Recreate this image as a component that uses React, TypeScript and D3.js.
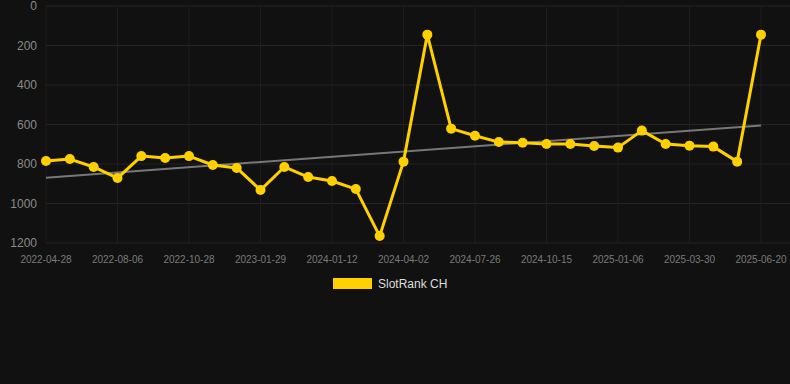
import React from "react";
import * as d3 from "d3";

const tickLabels = ["2022-04-28","2022-08-06","2022-10-28","2023-01-29","2024-01-12","2024-04-02","2024-07-26","2024-10-15","2025-01-06","2025-03-30","2025-06-20"];
const rankValues = [785,775,815,871,760,770,760,805,820,932,815,866,886,927,1165,788,145,621,657,689,692,699,699,709,717,631,699,707,712,788,145];
const yTicks = [0,200,400,600,800,1000,1200];
const seriesName = "SlotRank CH";

export default function App() {
  const W = 790, H = 384;
  const left = 46, right = 761, gridRight = 790, top = 6, bottom = 243;
  const idx = rankValues.map((_, i) => i);
  const x = d3.scaleLinear().domain([0, rankValues.length - 1]).range([left, right]);
  const y = d3.scaleLinear().domain([0, 1200]).range([top, bottom]);
  const line = d3.line<number>().x((_, i) => x(i)).y(v => y(v));
  const n = rankValues.length;
  const mx = d3.mean(idx)!;
  const my = d3.mean(rankValues)!;
  const sxy = d3.sum(idx, i => (i - mx) * (rankValues[i] - my));
  const sxx = d3.sum(idx, i => (i - mx) ** 2);
  const slope = sxy / sxx;
  const b = my - slope * mx;
  const tickIdx = tickLabels.map((_, k) => k * 3);
  return (
    <svg width={W} height={H} style={{ position: "absolute", left: 0, top: 0, background: "#111111", fontFamily: "Liberation Sans, Arial, sans-serif" }}>
      <rect x={0} y={0} width={W} height={H} fill="#111111" />
      {yTicks.map(t => (
        <line key={"h" + t} x1={left} x2={gridRight} y1={y(t)} y2={y(t)} stroke="#252525" strokeWidth={1} />
      ))}
      {tickIdx.map(i => (
        <line key={"v" + i} x1={x(i)} x2={x(i)} y1={top} y2={bottom} stroke="#1e1e1e" strokeWidth={1} />
      ))}
      {yTicks.map(t => (
        <text key={"yl" + t} x={37} y={y(t)} dy="0.35em" textAnchor="end" fontSize={12} fill="#8a8a8a">{t}</text>
      ))}
      {tickIdx.map((i, k) => (
        <text key={"xl" + i} x={x(i)} y={263} textAnchor="middle" fontSize={10} fill="#7a7a7a">{tickLabels[k]}</text>
      ))}
      <line x1={x(0)} x2={x(n - 1)} y1={y(b)} y2={y(b + slope * (n - 1))} stroke="#8a8a8a" strokeOpacity={0.85} strokeWidth={2} />
      <path d={line(rankValues)!} fill="none" stroke="#FFD000" strokeWidth={3} strokeLinejoin="round" />
      {rankValues.map((v, i) => (
        <circle key={"p" + i} cx={x(i)} cy={y(v)} r={5} fill="#FFD000" />
      ))}
      <rect x={333} y={278} width={39} height={11} fill="#FFD000" />
      <text x={378} y={284} dy="0.35em" fontSize={12} fill="#dddddd">{seriesName}</text>
    </svg>
  );
}
